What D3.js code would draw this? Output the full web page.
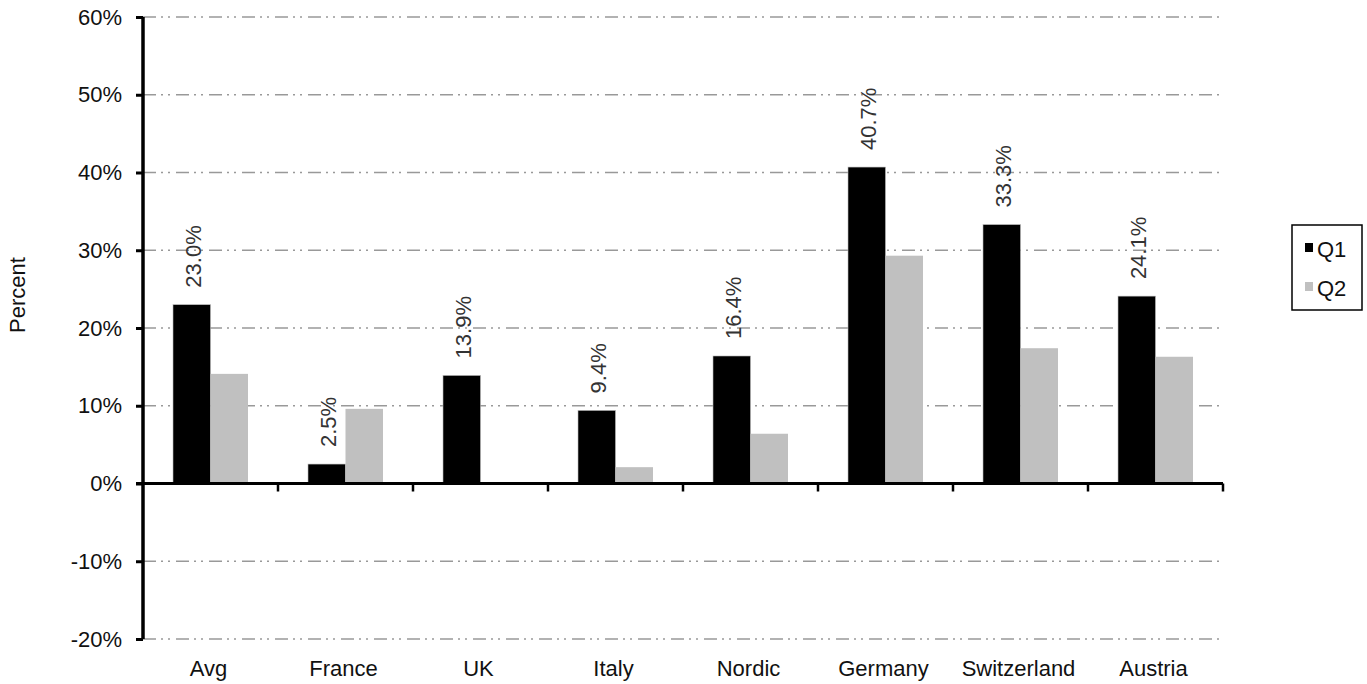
<!DOCTYPE html>
<html><head><meta charset="utf-8">
<script src="https://cdn.jsdelivr.net/npm/d3@7"></script>
<style>body{margin:0;background:#fff}svg{display:block}text{font-family:"Liberation Sans",Arial,sans-serif}</style>
</head><body><svg id="c" width="1367" height="684"></svg>
<script>
const categories = ["Avg","France","UK","Italy","Nordic","Germany","Switzerland","Austria"];
const seriesNames = ["Q1","Q2"];
const q1Values = [23.0, 2.5, 13.9, 9.4, 16.4, 40.7, 33.3, 24.1];
const q2Values = [14.1, 9.6, 0, 2.1, 6.4, 29.3, 17.4, 16.3];
const yTicks = [-20,-10,0,10,20,30,40,50,60];
const colors = ["#000000","#c0c0c0"];

(function(){
const FS = 22;
const svg = d3.select("#c");
const pl = 143, pr = 1223, pt = 17, pb = 639;
const y = d3.scaleLinear().domain([-20,60]).range([pb, pt]);
const x = d3.scaleBand().domain(categories).range([pl, pr]).padding(0);
const xs = d3.scaleBand().domain(seriesNames).range([0, x.bandwidth()]).paddingInner(0).paddingOuter(0.8);

// gridlines
svg.append("g").selectAll("line").data(yTicks.filter(d=>d!==0)).join("line")
  .attr("x1", pl).attr("x2", pr)
  .attr("y1", d=>y(d)).attr("y2", d=>y(d))
  .attr("stroke","#999").attr("stroke-width",1.5)
  .attr("stroke-dasharray","13,5,2,5,2,6");

// bars
const data = categories.map((c,i)=>({c, vals:[q1Values[i], q2Values[i]]}));
const g = svg.append("g");
data.forEach(d=>{
  d.vals.forEach((v,j)=>{
    if (v===0) return;
    g.append("rect")
      .attr("x", x(d.c)+xs(seriesNames[j]))
      .attr("width", xs.bandwidth())
      .attr("y", y(Math.max(0,v)))
      .attr("height", Math.abs(y(v)-y(0)))
      .attr("fill", colors[j])
      .attr("stroke", j===0 ? "#bbb" : "none").attr("stroke-width", 0.6);
  });
});

// data labels on Q1
data.forEach(d=>{
  const cx = x(d.c)+xs("Q1")+xs.bandwidth()/2 + 2;
  const ty = y(d.vals[0]) - 17;
  svg.append("text")
    .attr("transform", `translate(${cx},${ty}) rotate(-90)`)
    .attr("text-anchor","start").attr("dy","0.35em")
    .attr("font-size",FS).attr("fill","#333")
    .text(d.vals[0].toFixed(1)+"%");
});

// y axis
const yAxis = d3.axisLeft(y).tickValues(yTicks).tickFormat(d=>d+"%").tickSize(7).tickPadding(14);
const ya = svg.append("g").attr("transform",`translate(${pl},0)`).call(yAxis);
ya.select(".domain").attr("stroke","#000").attr("stroke-width",3.5).attr("d",`M0,${pt}V${pb}`);
ya.selectAll(".tick line").attr("stroke","#000").attr("stroke-width",3);
ya.selectAll(".tick text").attr("font-size",FS).attr("fill","#111").attr("font-family","Liberation Sans, Arial, sans-serif");

// x axis at zero
const xAxisLine = svg.append("g");
xAxisLine.append("line").attr("x1", pl-7).attr("x2", pr).attr("y1", y(0)).attr("y2", y(0))
  .attr("stroke","#000").attr("stroke-width",3);
const bounds = categories.map(c=>x(c)).concat([pr]).slice(1);
xAxisLine.selectAll(".xt").data(bounds).join("line")
  .attr("x1",d=>d).attr("x2",d=>d).attr("y1",y(0)).attr("y2",y(0)+8)
  .attr("stroke","#000").attr("stroke-width",2.5);
svg.append("g").selectAll("text").data(categories).join("text")
  .attr("x", d=>x(d)+x.bandwidth()/2 - 2).attr("y", 676)
  .attr("text-anchor","middle").attr("font-size",FS).attr("fill","#111")
  .text(d=>d);

// y title
svg.append("text").attr("transform","translate(25,295) rotate(-90)")
  .attr("text-anchor","middle").attr("font-size",FS).attr("fill","#111").text("Percent");

// legend
const lg = svg.append("g");
lg.append("rect").attr("x",1292).attr("y",225).attr("width",70).attr("height",85)
  .attr("fill","#fff").attr("stroke","#000").attr("stroke-width",1.5);
seriesNames.forEach((s,i)=>{
  const yy = 257 + i*39;
  lg.append("rect").attr("x",1305).attr("y",yy-14).attr("width",8).attr("height",9).attr("fill",colors[i]);
  lg.append("text").attr("x",1317).attr("y",yy).attr("font-size",FS).attr("fill","#111").text(s);
});
})();
</script></body></html>
